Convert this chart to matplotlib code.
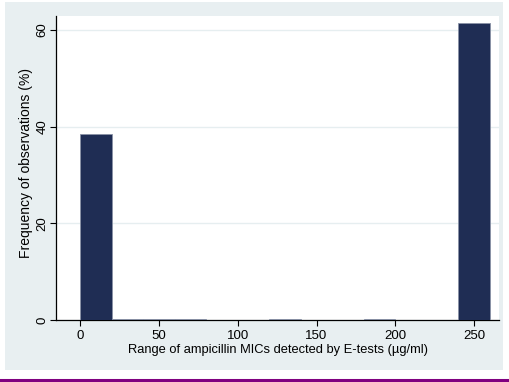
import numpy as np
import matplotlib.pyplot as plt
from matplotlib.patches import Rectangle
from matplotlib.lines import Line2D

# histogram bins (ug/ml) and frequency (%)
bin_left = [0, 20, 40, 60, 80, 100, 120, 140, 160, 180, 200, 220, 240]
freq     = [38.4, 0.2, 0.2, 0.2, 0, 0, 0.2, 0, 0, 0.2, 0, 0, 61.4]
bin_width = 20
xticks = [0, 50, 100, 150, 200, 250]
yticks = [0, 20, 40, 60]

plt.rcParams['font.family'] = ['Liberation Sans', 'DejaVu Sans']

fig = plt.figure(figsize=(5.1, 3.82), dpi=100)
fig.patch.set_facecolor('white')
W, H = 510., 382.

# outer graph region
fig.add_artist(Rectangle((5/W, 1 - 370/H), (503-5)/W, (370-2)/H,
                         transform=fig.transFigure, facecolor='#e8eff1',
                         edgecolor='none', zorder=-10))
# purple rule at the bottom
fig.add_artist(Line2D([0, 1], [1 - 380/H, 1 - 380/H], transform=fig.transFigure,
                      color='#800080', linewidth=2.2, zorder=-5))

ax = fig.add_axes([56/W, 1 - 320/H, (499-56)/W, (320-16)/H])
ax.set_zorder(1)
ax.set_facecolor('white')
ax.bar(bin_left, freq, width=bin_width, align='edge', color='#1f2d54',
       edgecolor='#8a92a6', linewidth=0.6, zorder=3)

ax.set_xlim(-15.2, 265.7)
ax.set_ylim(0, 62.9)
ax.set_xticks(xticks)
ax.set_yticks(yticks)
ax.set_yticklabels([str(t) for t in yticks], rotation=90, va='center')
ax.tick_params(direction='out', length=4.5, width=0.8, labelsize=9.5, pad=2.5)
ax.tick_params(axis='y', pad=1)
ax.grid(axis='y', color='#e6eef0', linewidth=1, zorder=0)
ax.set_axisbelow(True)

for s in ['top', 'right']:
    ax.spines[s].set_visible(False)
for s in ['left', 'bottom']:
    ax.spines[s].set_linewidth(0.9)

ax.set_xlabel('Range of ampicillin MICs detected by E-tests (µg/ml)', fontsize=9.25)
ax.set_ylabel('Frequency of observations (%)', fontsize=10)
ax.xaxis.set_label_coords(0.5, -0.078)
ax.yaxis.set_label_coords(-0.051, 0.518)

fig.savefig('out.png', dpi=100)
